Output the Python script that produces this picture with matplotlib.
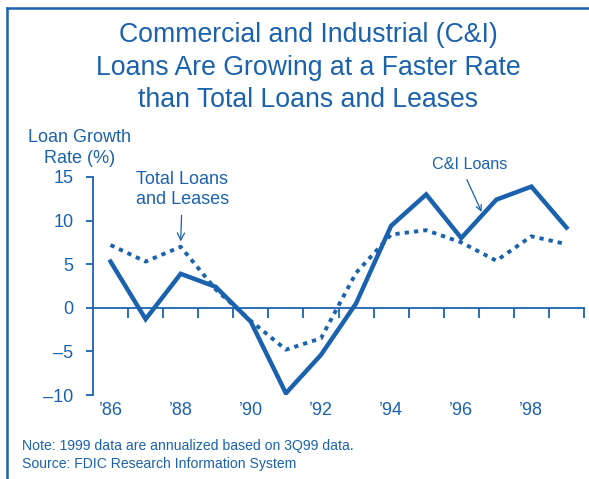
import matplotlib
matplotlib.use("Agg")
import matplotlib.pyplot as plt
import numpy as np

years = [1986, 1987, 1988, 1989, 1990, 1991, 1992, 1993, 1994, 1995, 1996, 1997, 1998, 1999]
ci_loans = [5.3, -1.3, 3.9, 2.4, -1.6, -9.8, -5.4, 0.5, 9.4, 13.0, 8.0, 12.4, 13.9, 9.2]
total_loans = [7.2, 5.3, 7.0, 2.1, -1.5, -4.8, -3.5, 4.0, 8.4, 8.9, 7.5, 5.4, 8.2, 7.3]
yticks = [-10, -5, 0, 5, 10, 15]
xlabel_years = [1986, 1988, 1990, 1992, 1994, 1996, 1998]
xlabels = ["\u201986", "\u201988", "\u201990", "\u201992", "\u201994", "\u201996", "\u201998"]

C = "#1b62ae"
plt.rcParams['font.family'] = ['Liberation Sans', 'DejaVu Sans']

W, H = 589, 479
fig = plt.figure(figsize=(W / 100, H / 100), dpi=100)

# frame lines (left and top)
fig.add_artist(plt.Line2D([7 / W, 7 / W], [0, 1 - 8 / H], color=C, lw=1.8, transform=fig.transFigure))
fig.add_artist(plt.Line2D([7 / W, 1], [1 - 8 / H, 1 - 8 / H], color=C, lw=1.8, transform=fig.transFigure))

ax = fig.add_axes([93 / W, 84 / H, (584 - 93) / W, 218 / H])
ax.plot(years, ci_loans, color=C, lw=3.2, solid_joinstyle='miter', zorder=3)
ax.plot(years, total_loans, color=C, lw=2.8, linestyle=(0, (1.1, 1.3)),
        dash_capstyle='butt', zorder=3)

ax.set_xlim(1985.5, 1999.5)
ax.set_ylim(-10, 15)
for s in ['top', 'right']:
    ax.spines[s].set_visible(False)
ax.spines['left'].set_color(C)
ax.spines['left'].set_linewidth(1.3)
ax.spines['bottom'].set_position(('data', 0))
ax.spines['bottom'].set_color(C)
ax.spines['bottom'].set_linewidth(1.3)

ax.set_yticks(yticks)
ax.set_yticklabels([("\u2013" + str(-v)) if v < 0 else str(v) for v in yticks])
ax.tick_params(axis='y', direction='out', length=5, width=1.3, color=C,
               labelcolor=C, labelsize=13, pad=9)

bounds = np.arange(years[0] + 0.5, years[-1] + 1, 1.0)
ax.set_xticks(bounds)
ax.set_xticklabels([])
ax.tick_params(axis='x', direction='out', length=7, width=1.3, color=C)

sec = ax.secondary_xaxis(0.0)
sec.spines['bottom'].set_visible(False)
sec.set_xticks(xlabel_years)
sec.set_xticklabels(xlabels)
sec.tick_params(axis='x', length=0, labelcolor=C, labelsize=13, pad=5)

# titles and labels
fig.text(308 / W, 1 - 42 / H, "Commercial and Industrial (C&I)", ha='center', va='baseline',
         fontsize=19.2, color=C)
fig.text(308 / W, 1 - 75 / H, "Loans Are Growing at a Faster Rate", ha='center', va='baseline',
         fontsize=19.2, color=C)
fig.text(308 / W, 1 - 107 / H, "than Total Loans and Leases", ha='center', va='baseline',
         fontsize=19.2, color=C)

fig.text(80 / W, 1 - 142 / H, "Loan Growth", ha='center', va='baseline', fontsize=13, color=C)
fig.text(80 / W, 1 - 163 / H, "Rate (%)", ha='center', va='baseline', fontsize=13, color=C)

ax.annotate("Total Loans\nand Leases", xy=(1988.0, 7.6), xytext=(1988.05, 11.4),
            ha='center', va='bottom', fontsize=13, color=C, linespacing=1.25,
            arrowprops=dict(arrowstyle='->', color=C, lw=0.9, shrinkA=3, shrinkB=0))
ax.text(1996.25, 15.6, "C&I Loans", ha='center', va='bottom', fontsize=11.6, color=C)
ax.annotate("", xy=(1996.58, 11.0), xytext=(1996.16, 14.7),
            arrowprops=dict(arrowstyle='->', color=C, lw=0.9, shrinkA=0, shrinkB=0))

fig.text(22 / W, 1 - 450 / H, "Note: 1999 data are annualized based on 3Q99 data.",
         ha='left', va='baseline', fontsize=10.1, color=C)
fig.text(22 / W, 1 - 468 / H, "Source: FDIC Research Information System",
         ha='left', va='baseline', fontsize=10.1, color=C)

fig.savefig("out.png", dpi=100)
